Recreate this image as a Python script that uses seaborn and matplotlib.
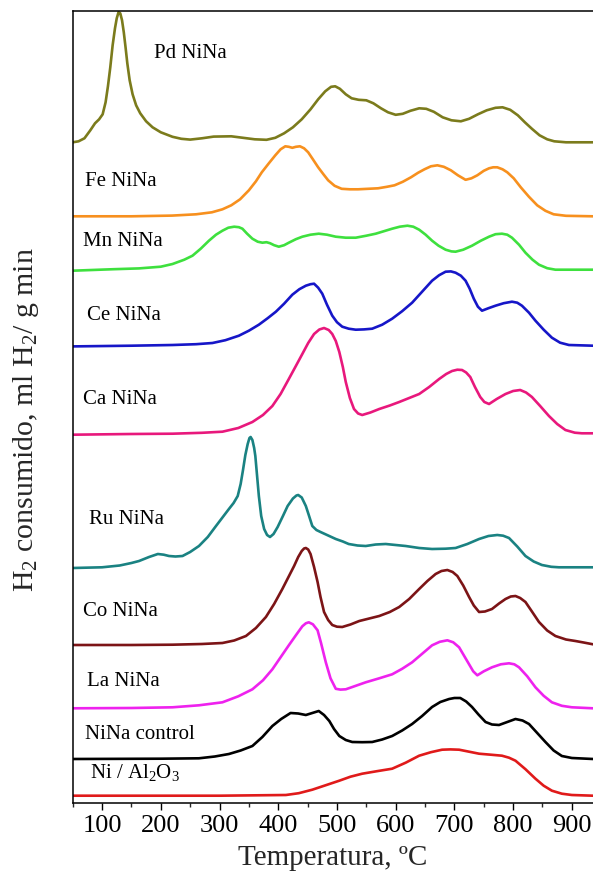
import numpy as np
import pandas as pd
import matplotlib
matplotlib.use("Agg")
import matplotlib.pyplot as plt
import seaborn as sns

# ---------------- data ----------------
samples = ["Pd NiNa", "Fe NiNa", "Mn NiNa", "Ce NiNa", "Ca NiNa",
           "Ru NiNa", "Co NiNa", "La NiNa", "NiNa control", "Ni / Al2O3"]

pd_T = [50, 60, 70, 80, 88, 95, 101, 106, 110, 114, 118, 122, 125, 128, 131, 134, 137, 140, 143, 147,
        152, 158, 165, 175, 186, 200, 220, 235, 250, 270, 290, 320, 340, 360, 380, 395, 410, 425, 440, 455,
        468, 480, 490, 497, 505, 515, 525, 537, 550, 562, 575, 587, 600, 612, 625, 640, 652, 665, 680, 695,
        711, 725, 740, 755, 770, 782, 795, 808, 820, 832, 845, 858, 870, 890, 936]
pd_h = [0, 1, 4, 12, 19, 23, 28, 40, 56, 75, 97, 114, 124, 130, 129, 122, 110, 95, 79, 62,
        48, 37, 29, 21, 15, 10, 5.5, 3.5, 2.7, 4, 5.7, 6, 4.5, 3, 2.5, 4.5, 9, 15, 23, 33,
        43, 51, 55.5, 56, 53.5, 48, 44, 42.5, 42, 39, 34, 30, 27.5, 28.5, 31.5, 34, 33.5, 30.5, 25, 22,
        21, 23.5, 28, 32, 34.5, 35, 32.5, 27, 20, 13.5, 7, 3, 1, 0, 0]

fe_T = [50, 150, 219, 260, 287, 305, 320, 335, 350, 362, 372, 384, 395, 404, 412, 418, 424, 430, 437, 444,
        451, 459, 468, 477, 485, 496, 508, 522, 536, 553, 570, 585, 598, 612, 626, 638, 649, 660, 671, 682,
        694, 706, 719, 729, 739, 750, 759, 766, 773, 782, 790, 801, 813, 827, 841, 855, 869, 890, 936]
fe_h = [0, 0, 0.7, 2, 4, 7, 11, 17, 26, 35, 44, 53, 61, 67, 70, 69.5, 68.5, 69.5, 70, 68,
        64, 57, 49, 42, 36, 30.5, 27.5, 27, 27, 27.5, 28, 29.5, 31, 34.5, 39, 43.5, 47, 50, 51, 49.5,
        46, 41, 36.5, 38, 41, 45.5, 48, 49, 49, 47, 44, 38, 29, 19.5, 11, 5.5, 2, 0.5, 0]

mn_T = [50, 120, 163, 200, 220, 240, 254, 268, 282, 294, 305, 315, 325, 333, 339, 347, 356, 365, 373, 380,
        386, 393, 401, 410, 418, 430, 441, 455, 469, 483, 498, 515, 532, 550, 566, 580, 594, 607, 620, 630,
        640, 651, 662, 673, 685, 695, 702, 715, 730, 745, 759, 770, 781, 790, 798, 810, 821, 833, 844, 858,
        872, 936]
mn_h = [-1, 0.5, 1.3, 3, 5.7, 10, 14, 21, 29, 35, 39, 42, 43, 42.5, 41, 36, 31, 28, 27, 27.5,
        26.5, 24.5, 23, 24.5, 27, 30.5, 33, 35, 36, 35, 33, 32, 32, 34, 36, 38.5, 41, 43, 44, 43,
        40, 35, 29, 24, 20, 18.3, 18, 20, 24, 29, 33, 35.5, 36, 35, 32, 25, 17, 10, 5, 1.5,
        0, 0]

ce_T = [50, 150, 220, 260, 288, 310, 333, 350, 367, 382, 396, 410, 424, 436, 447, 455, 461, 468, 475, 483,
        492, 500, 509, 520, 532, 546, 560, 577, 594, 611, 628, 645, 662, 674, 685, 694, 702, 711, 719, 726,
        733, 740, 747, 758, 770, 784, 798, 807, 815, 827, 838, 852, 866, 880, 895, 936]
ce_h = [-0.7, 0, 0.7, 1.5, 2.7, 5.5, 10, 15, 21, 27.5, 34, 42, 51, 56.5, 60, 61.5, 62, 58, 52, 41,
        30, 23.5, 19, 17, 16, 16.3, 17, 21, 27, 34.5, 43, 54, 65, 70.5, 74, 74.3, 73, 70, 65, 57,
        47, 39, 35, 37.5, 40, 42.5, 44, 43, 40, 33, 25, 16, 8, 3, 0.7, 0]

ca_T = [50, 150, 220, 270, 305, 332, 356, 374, 390, 404, 418, 430, 441, 451, 461, 470, 478, 486, 492, 498,
        504, 510, 515, 522, 529, 536, 543, 557, 572, 590, 606, 623, 640, 657, 674, 686, 696, 705, 713, 720,
        727, 735, 744, 751, 759, 772, 787, 800, 812, 822, 832, 846, 861, 875, 889, 905, 917, 936]
ca_h = [-0.7, 0, 0.3, 1.2, 2.3, 6, 12, 19, 28, 40, 55, 68, 80, 91, 100, 104.5, 106, 104, 100, 93,
        82, 67, 52, 36, 25, 20.5, 19, 21.5, 25, 28.5, 32, 36, 40, 47, 55, 60, 63, 64.3, 64, 61.5,
        57, 47, 37, 32, 30, 35, 40, 43, 44, 41.5, 37, 28, 18, 10, 4, 1.3, 0.7, 0.7]

ru_T = [50, 100, 130, 150, 163, 180, 195, 205, 214, 225, 237, 250, 265, 280, 294, 305, 316, 324, 331, 336,
        340, 344, 348, 351, 353, 356, 359, 361, 364, 367, 371, 376, 381, 386, 392, 399, 408, 416, 425, 431,
        434, 440, 447, 452, 458, 465, 472, 485, 498, 510, 520, 535, 549, 566, 583, 600, 617, 640, 662, 685,
        702, 722, 742, 758, 773, 783, 793, 807, 821, 835, 849, 865, 878, 936]
ru_h = [0, 0.7, 2.5, 5, 7, 11, 14, 13.3, 12, 11.5, 12, 16, 22, 31, 42, 50.5, 59, 65, 72, 84,
        98, 113, 124, 130, 131, 128, 120, 112, 92, 72, 52, 39, 33, 31, 34, 41, 52, 62, 69.5, 72.5,
        73, 70.5, 62, 53, 42, 38, 36, 32.5, 29, 26.5, 24, 22.5, 22, 23.5, 24, 23, 22, 20, 19, 19.3,
        20, 24, 29, 32, 33, 32.3, 30, 21.5, 12, 6.5, 3, 1.2, 0.7, 0.7]

co_T = [50, 150, 220, 270, 305, 325, 345, 362, 379, 393, 407, 417, 427, 434, 440, 444, 447, 451, 455, 461,
        467, 472, 478, 485, 492, 500, 509, 523, 538, 555, 572, 590, 606, 623, 640, 654, 668, 678, 688, 697,
        705, 715, 725, 733, 742, 752, 764, 776, 787, 796, 804, 812, 821, 832, 844, 858, 872, 890, 906, 920,
        936]
co_h = [0, 0, 0.3, 1, 2, 4.5, 9, 17, 28, 41, 56, 67.5, 79, 88, 94, 96.5, 97, 95.5, 91, 78,
        63, 48, 33, 25, 20, 18.3, 18, 20.5, 24, 26.5, 29, 33, 38, 46, 56, 64, 71, 74, 75, 73,
        69, 59.5, 48, 39.5, 33, 33.5, 36, 41.5, 46, 48.5, 49, 47, 43, 33.5, 23, 14.5, 9, 5.5, 4, 2.5,
        0.7]

la_T = [50, 150, 220, 265, 305, 332, 356, 374, 390, 404, 418, 430, 441, 447, 452, 459, 467, 473, 481, 489,
        498, 506, 515, 532, 549, 572, 594, 611, 628, 645, 662, 675, 688, 698, 708, 716, 725, 732, 739, 750,
        764, 779, 793, 802, 810, 824, 838, 852, 866, 883, 900, 936]
la_h = [0, 0.3, 1, 3, 6, 12, 19, 28, 39, 51, 63, 73, 82, 85, 86, 84, 78, 65, 46, 30,
        19.5, 18.7, 19, 22.5, 26, 30, 34, 39.5, 46, 54.5, 63, 66.5, 68, 66, 61, 53, 44, 37, 33, 37,
        41, 44, 45, 44, 41, 32, 21, 12.5, 6, 2.5, 1, 0]

ctl_T = [50, 200, 265, 292, 316, 336, 356, 373, 390, 405, 421, 434, 447, 458, 469, 478, 487, 495, 504, 515,
         526, 543, 560, 577, 594, 611, 628, 645, 662, 676, 691, 700, 710, 720, 730, 741, 753, 764, 776, 790,
         804, 816, 827, 841, 855, 869, 883, 900, 936]
ctl_h = [0, 0.3, 0.7, 2.5, 5, 8.5, 13, 22, 33, 40, 46, 45.5, 44, 46, 48, 44, 38, 30, 23, 19,
         17, 16.8, 17, 19.5, 23, 28.5, 35, 43, 52, 57, 60, 61, 61, 57.5, 52, 44.5, 37, 34.5, 34, 37,
         40, 38.5, 35, 26, 17, 8.5, 3, 1, 0]

ni_T = [50, 300, 413, 435, 458, 481, 504, 523, 543, 568, 594, 617, 640, 660, 679, 693, 708, 725, 742, 762,
        781, 793, 804, 821, 838, 852, 866, 883, 900, 936]
ni_h = [0, 0, 0.7, 2.5, 6, 10.5, 15, 19, 22, 24.5, 27, 33, 40, 43.5, 46, 46.3, 46, 44, 42, 41,
        40, 38, 35, 26.5, 17, 10, 5, 2, 0.7, 0]

x_ticks = [100, 200, 300, 400, 500, 600, 700, 800, 900]

# ---------------- styling / layout ----------------
offsets = [660.7, 586.7, 533.3, 457.3, 369, 235, 158, 94.7, 44, 7.3]
colors = ["#7b7b1c", "#f7901e", "#3ee03e", "#1616c8", "#e8187c",
          "#1a8282", "#7c1416", "#ee22ee", "#000000", "#e01a1a"]
label_pos = [(189, 751), (71.5, 622), (67, 563), (74, 488), (68, 404),
             (77, 285), (68, 192), (74, 122), (71.5, 69), (79.5, 31)]
label_text = ["Pd NiNa", "Fe NiNa", "Mn NiNa", "Ce NiNa", "Ca NiNa",
              "Ru NiNa", "Co NiNa", "La NiNa", "NiNa control", "Ni / Al$_2$O$_3$"]

series_T = [pd_T, fe_T, mn_T, ce_T, ca_T, ru_T, co_T, la_T, ctl_T, ni_T]
series_h = [pd_h, fe_h, mn_h, ce_h, ca_h, ru_h, co_h, la_h, ctl_h, ni_h]

frames = []
for name, T, h, off in zip(samples, series_T, series_h, offsets):
    frames.append(pd.DataFrame({"sample": name, "T": T, "h": h, "y": np.asarray(h) + off}))
df = pd.concat(frames, ignore_index=True)

sns.set_theme(style="ticks")
plt.rcParams["font.family"] = ["Liberation Serif", "DejaVu Serif"]
plt.rcParams["mathtext.fontset"] = "custom"
plt.rcParams["mathtext.rm"] = "Liberation Serif"
plt.rcParams["mathtext.it"] = "Liberation Serif:italic"
plt.rcParams["mathtext.bf"] = "Liberation Serif:bold"
plt.rcParams["lines.solid_joinstyle"] = "round"
plt.rcParams["lines.solid_capstyle"] = "round"

fig = plt.figure(figsize=(5.93, 8.79), dpi=100)
ax = fig.add_axes([72.7 / 593, 75 / 879, 520.3 / 593, 792 / 879])

sns.lineplot(data=df, x="T", y="y", hue="sample", hue_order=samples,
             palette=dict(zip(samples, colors)), estimator=None, sort=False,
             linewidth=1.9, legend=False, ax=ax)

for (tx, ty), txt in zip(label_pos, label_text):
    ax.text(tx, ty, txt, fontsize=15, color="black", ha="left", va="center")

ax.set_xlim(50, 936)
ax.set_ylim(0, 792)
ax.set_xticks(x_ticks)
ax.set_xticklabels([str(t) for t in x_ticks])
ax.set_xticks(np.arange(50, 936, 50), minor=True)
ax.set_yticks([])
ax.tick_params(axis="x", which="major", direction="out", length=5, width=1.0,
               labelsize=19, pad=3, colors="black")
ax.tick_params(axis="x", which="minor", direction="out", length=3, width=1.0)
for s in ["left", "top", "bottom"]:
    ax.spines[s].set_visible(True)
    ax.spines[s].set_color("black")
    ax.spines[s].set_linewidth(1.1)
ax.spines["right"].set_visible(False)

ax.set_xlabel("Temperatura, ºC", fontsize=21, labelpad=6)
ax.set_ylabel("H$_2$ consumido, ml H$_2$/ g min", fontsize=21.5)
ax.yaxis.set_label_coords(-0.061, 0.485)

fig.savefig("out.png", dpi=100, facecolor="white")
